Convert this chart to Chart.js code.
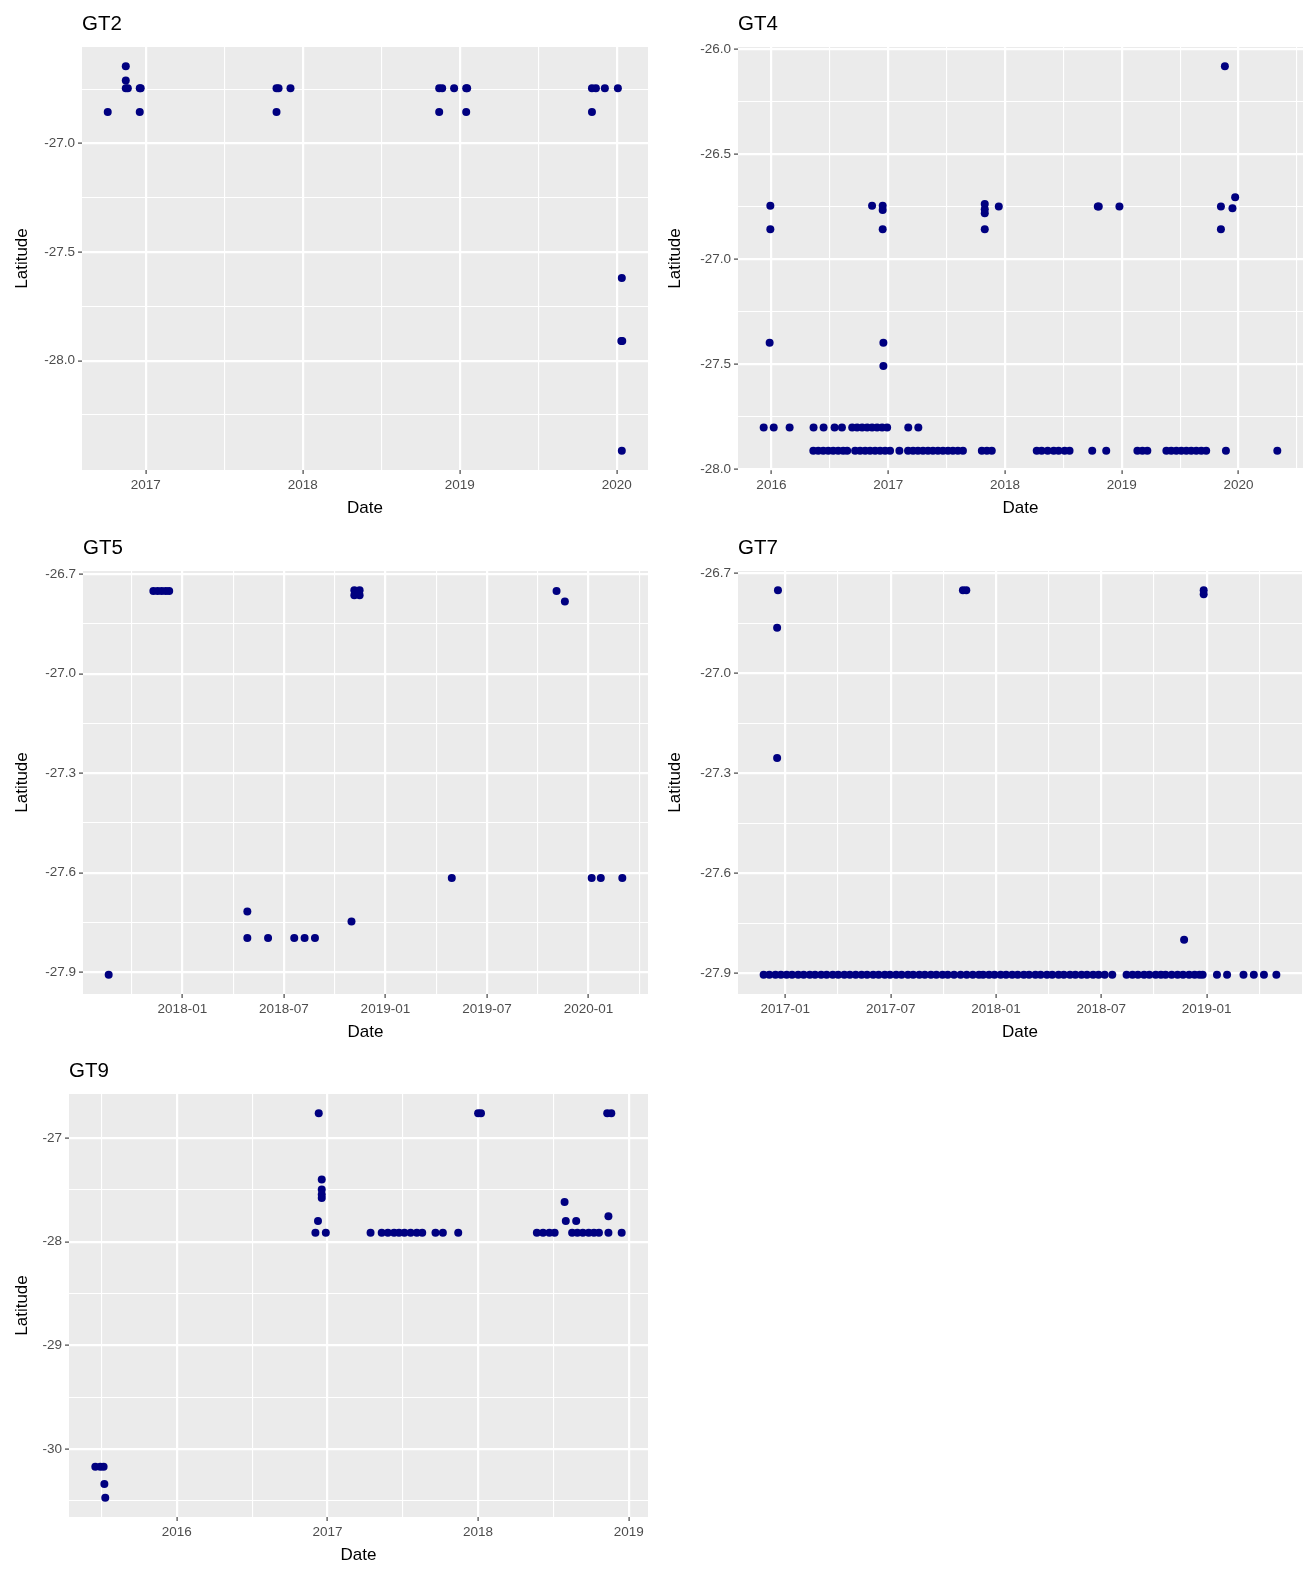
<!DOCTYPE html>
<html>
<head>
<meta charset="utf-8">
<script src="https://cdn.jsdelivr.net/npm/chart.js@4.4.1/dist/chart.umd.min.js"></script>
<style>
html,body{margin:0;padding:0;background:#ffffff;}
body{width:1307px;height:1571px;position:relative;overflow:hidden;}
canvas{position:absolute;display:block;}
</style>
</head>
<body>
<canvas id="gt2" width="653" height="524" style="left:0px;top:0px"></canvas>
<canvas id="gt4" width="654" height="524" style="left:653px;top:0px"></canvas>
<canvas id="gt5" width="653" height="524" style="left:0px;top:524px"></canvas>
<canvas id="gt7" width="654" height="524" style="left:653px;top:524px"></canvas>
<canvas id="gt9" width="653" height="524" style="left:0px;top:1047px"></canvas>
<script>
// ---------------- DATA (x = date as decimal year, y = latitude) ----------------
const gt2Year = [2016.758,2016.873,2016.873,2016.873,2016.886,2016.962,2016.968,2016.962,
  2017.833,2017.833,2017.846,2017.922,
  2018.869,2018.869,2018.888,2018.964,2019.041,2019.047,2019.041,
  2019.842,2019.842,2019.867,2019.924,2020.007,2020.032,2020.029,2020.035,2020.032];
const gt2Lat = [-26.855,-26.644,-26.710,-26.745,-26.745,-26.745,-26.745,-26.855,
  -26.855,-26.745,-26.745,-26.745,
  -26.855,-26.745,-26.745,-26.745,-26.745,-26.745,-26.855,
  -26.855,-26.745,-26.745,-26.745,-26.745,-27.619,-27.910,-27.910,-28.415];
const gt2XTicks = ["2017","2018","2019","2020"];
const gt2YTicks = ["-27.0","-27.5","-28.0"];

const gt4Year = [2015.991,2015.991,2015.985,2016.862,2016.953,2016.953,2016.953,2016.959,2016.959,
  2017.827,2017.827,2017.827,2017.827,2017.947,2018.795,2018.803,2018.980,
  2019.849,2019.849,2019.948,2019.971,2019.883,
  2015.934,2016.020,2016.156,2016.361,2016.447,2016.541,2016.604,2016.692,2016.734,2016.777,
  2016.820,2016.862,2016.905,2016.948,2016.991,2017.172,2017.258,
  2016.359,2016.401,2016.444,2016.487,2016.529,2016.572,2016.615,2016.649,2016.717,2016.760,
  2016.803,2016.845,2016.888,2016.931,2016.974,2017.016,2017.096,2017.170,2017.213,2017.255,
  2017.298,2017.341,2017.383,2017.426,2017.469,2017.512,2017.554,2017.597,2017.640,2017.802,
  2017.845,2017.887,2018.272,2018.314,2018.366,2018.417,2018.459,2018.511,2018.553,2018.747,
  2018.867,2019.134,2019.177,2019.219,2019.382,2019.424,2019.467,2019.510,2019.553,2019.595,
  2019.638,2019.681,2019.723,2019.892,2020.332];
const gt4Lat = [-26.746,-26.858,-27.398,-26.746,-26.746,-26.766,-26.858,-27.398,-27.509,
  -26.738,-26.763,-26.782,-26.858,-26.750,-26.750,-26.750,-26.750,
  -26.750,-26.858,-26.758,-26.706,-26.082,
  -27.801,-27.801,-27.801,-27.801,-27.801,-27.801,-27.801,-27.801,-27.801,-27.801,
  -27.801,-27.801,-27.801,-27.801,-27.801,-27.801,-27.801,
  -27.912,-27.912,-27.912,-27.912,-27.912,-27.912,-27.912,-27.912,-27.912,-27.912,
  -27.912,-27.912,-27.912,-27.912,-27.912,-27.912,-27.912,-27.912,-27.912,-27.912,
  -27.912,-27.912,-27.912,-27.912,-27.912,-27.912,-27.912,-27.912,-27.912,-27.912,
  -27.912,-27.912,-27.912,-27.912,-27.912,-27.912,-27.912,-27.912,-27.912,-27.912,
  -27.912,-27.912,-27.912,-27.912,-27.912,-27.912,-27.912,-27.912,-27.912,-27.912,
  -27.912,-27.912,-27.912,-27.912,-27.912];
const gt4XTicks = ["2016","2017","2018","2019","2020"];
const gt4YTicks = ["-26.0","-26.5","-27.0","-27.5","-28.0"];

const gt5Year = [2017.637,2017.857,2017.878,2017.898,2017.918,2017.935,
  2018.320,2018.320,2018.422,2018.551,2018.602,2018.653,2018.833,
  2018.847,2018.873,2018.847,2018.873,2019.327,2019.843,2019.884,
  2020.016,2020.061,2020.167];
const gt5Lat = [-27.908,-26.750,-26.750,-26.750,-26.750,-26.750,
  -27.717,-27.797,-27.797,-27.797,-27.797,-27.797,-27.747,
  -26.748,-26.748,-26.763,-26.763,-27.616,-26.750,-26.782,
  -27.616,-27.616,-27.616];
const gt5XTicks = ["2018-01","2018-07","2019-01","2019-07","2020-01"];
const gt5YTicks = ["-26.7","-27.0","-27.3","-27.6","-27.9"];

const gt7Year = [2016.965,2016.961,2016.961,2017.843,2017.859,2018.986,2018.986,2018.893,
  2016.897,2016.924,2016.953,2016.979,2017.006,2017.032,2017.061,2017.087,2017.116,2017.141,
  2017.170,2017.196,2017.225,2017.251,2017.280,2017.306,2017.334,2017.362,2017.388,2017.417,
  2017.443,2017.472,2017.497,2017.526,2017.552,2017.582,2017.607,2017.636,2017.662,2017.691,
  2017.717,2017.746,2017.771,2017.801,2017.832,
  2017.861,2017.890,2017.919,
  2017.939,2017.967,2017.993,2018.022,2018.048,2018.077,2018.103,2018.132,2018.157,2018.187,
  2018.212,2018.242,2018.267,2018.297,2018.322,2018.351,2018.377,2018.406,2018.432,2018.461,
  2018.487,2018.516,2018.552,
  2018.620,2018.648,2018.674,2018.703,2018.728,2018.758,2018.783,2018.805,
  2018.834,2018.862,2018.888,2018.917,2018.943,2018.966,2018.981,
  2019.049,2019.097,2019.175,2019.224,2019.272,2019.331];
const gt7Lat = [-26.750,-26.863,-27.254,-26.750,-26.750,-26.750,-26.762,-27.800,
  -27.905,-27.905,-27.905,-27.905,-27.905,-27.905,-27.905,-27.905,-27.905,-27.905,
  -27.905,-27.905,-27.905,-27.905,-27.905,-27.905,-27.905,-27.905,-27.905,-27.905,
  -27.905,-27.905,-27.905,-27.905,-27.905,-27.905,-27.905,-27.905,-27.905,-27.905,
  -27.905,-27.905,-27.905,-27.905,-27.905,
  -27.905,-27.905,-27.905,
  -27.905,-27.905,-27.905,-27.905,-27.905,-27.905,-27.905,-27.905,-27.905,-27.905,
  -27.905,-27.905,-27.905,-27.905,-27.905,-27.905,-27.905,-27.905,-27.905,-27.905,
  -27.905,-27.905,-27.905,
  -27.905,-27.905,-27.905,-27.905,-27.905,-27.905,-27.905,-27.905,
  -27.905,-27.905,-27.905,-27.905,-27.905,-27.905,-27.905,
  -27.905,-27.905,-27.905,-27.905,-27.905,-27.905];
const gt7XTicks = ["2017-01","2017-07","2018-01","2018-07","2019-01"];
const gt7YTicks = ["-26.7","-27.0","-27.3","-27.6","-27.9"];

const gt9Year = [2015.459,2015.492,2015.514,2015.519,2015.525,
  2016.942,2016.920,2016.989,2016.937,2016.962,2016.962,2016.962,2016.962,
  2017.286,2017.360,2017.401,2017.442,2017.475,2017.511,2017.552,2017.593,2017.629,
  2017.717,2017.766,2017.868,2018.000,2018.019,
  2018.390,2018.431,2018.473,2018.508,2018.574,2018.582,2018.651,
  2018.624,2018.659,2018.695,2018.734,2018.769,2018.802,
  2018.857,2018.884,2018.865,2018.865,2018.953];
const gt9Lat = [-30.170,-30.170,-30.170,-30.337,-30.470,
  -26.760,-27.914,-27.914,-27.800,-27.400,-27.497,-27.545,-27.577,
  -27.914,-27.914,-27.914,-27.914,-27.914,-27.914,-27.914,-27.914,-27.914,
  -27.914,-27.914,-27.914,-26.760,-26.760,
  -27.914,-27.914,-27.914,-27.914,-27.616,-27.800,-27.800,
  -27.914,-27.914,-27.914,-27.914,-27.914,-27.914,
  -26.760,-26.760,-27.754,-27.914,-27.914];
const gt9XTicks = ["2016","2017","2018","2019"];
const gt9YTicks = ["-27","-28","-29","-30"];

// ---------------- helpers ----------------
const FONT = "'Liberation Sans', Arial, Helvetica, sans-serif";
const POINT_COLOR = '#000080';

function parseDateLabel(s) {
  const parts = s.split('-');
  return Number(parts[0]) + (parts.length > 1 ? (Number(parts[1]) - 1) / 12 : 0);
}
function parseNum(s) { return Number(s); }

// ggplot-like 5% expansion of the data range
function limits(vals) {
  const mn = Math.min(...vals), mx = Math.max(...vals), r = mx - mn;
  return { min: mn - 0.05 * r, max: mx + 0.05 * r };
}

// majors from labels, minors at midpoints (and half a step beyond ends)
function buildTicks(labels, parse, lim) {
  const majors = labels.map(l => ({ value: parse(l), lbl: l })).sort((a, b) => a.value - b.value);
  const n = majors.length;
  const minors = [];
  for (let i = 0; i < n - 1; i++) minors.push((majors[i].value + majors[i + 1].value) / 2);
  minors.push(majors[0].value - (majors[1].value - majors[0].value) / 2);
  minors.push(majors[n - 1].value + (majors[n - 1].value - majors[n - 2].value) / 2);
  const eps = 1e-9;
  const all = majors.filter(t => t.value >= lim.min - eps && t.value <= lim.max + eps)
    .concat(minors.filter(v => v >= lim.min && v <= lim.max).map(v => ({ value: v, lbl: '' })));
  return all.sort((a, b) => a.value - b.value);
}

const panelPlugin = {
  id: 'panelDeco',
  beforeDraw(chart) {
    const { ctx, chartArea: a } = chart;
    ctx.save();
    ctx.fillStyle = '#EBEBEB';
    ctx.fillRect(a.left, a.top, a.right - a.left, a.bottom - a.top);
    ctx.restore();
  },
  afterDraw(chart, args, opts) {
    const { ctx, chartArea: a } = chart;
    ctx.save();
    ctx.font = '20.5px ' + FONT;
    ctx.fillStyle = '#000000';
    ctx.textAlign = 'left';
    ctx.textBaseline = 'alphabetic';
    ctx.fillText(opts.text, a.left, 30);
    ctx.restore();
  }
};

function gridOpts() {
  return {
    color: '#FFFFFF',
    lineWidth: c => (c.tick && c.tick.lbl) ? 2.2 : 1.1,
    drawTicks: true,
    tickLength: 4,
    tickWidth: 1.1,
    tickColor: c => (c.tick && c.tick.lbl) ? '#333333' : 'rgba(0,0,0,0)',
    drawOnChartArea: true
  };
}

function makePanel(cfg) {
  const xl = limits(cfg.x), yl = limits(cfg.y);
  const xt = buildTicks(cfg.xTicks, parseDateLabel, xl);
  const yt = buildTicks(cfg.yTicks, parseNum, yl);
  const canvas = document.getElementById(cfg.id);
  new Chart(canvas, {
    type: 'scatter',
    data: {
      datasets: [{
        data: cfg.x.map((v, i) => ({ x: v, y: cfg.y[i] })),
        pointRadius: 4,
        pointBackgroundColor: POINT_COLOR,
        pointBorderWidth: 0,
        pointBorderColor: POINT_COLOR,
        showLine: false
      }]
    },
    plugins: [panelPlugin],
    options: {
      responsive: false,
      animation: false,
      events: [],
      layout: { padding: { top: 47, right: cfg.padRight, bottom: 0, left: 0 } },
      plugins: {
        legend: { display: false },
        tooltip: { enabled: false },
        panelDeco: { text: cfg.title }
      },
      scales: {
        x: {
          type: 'linear',
          min: xl.min, max: xl.max,
          afterBuildTicks: s => { s.ticks = xt.map(t => ({ value: t.value, lbl: t.lbl })); },
          afterFit: s => { s.height = 54; },
          ticks: {
            autoSkip: false, maxRotation: 0, minRotation: 0, padding: 3,
            color: '#4D4D4D', font: { family: FONT, size: 13.5 },
            callback: (v, i, ticks) => ticks[i].lbl
          },
          grid: gridOpts(),
          border: { display: false },
          title: { display: true, text: 'Date', color: '#000000',
                   font: { family: FONT, size: 17 }, padding: { top: 0, bottom: 5 } }
        },
        y: {
          type: 'linear',
          min: yl.min, max: yl.max,
          afterBuildTicks: s => { s.ticks = yt.map(t => ({ value: t.value, lbl: t.lbl })); },
          afterFit: s => { s.width = cfg.plotLeft; },
          ticks: {
            autoSkip: false, padding: 3,
            color: '#4D4D4D', font: { family: FONT, size: 13.5 },
            callback: (v, i, ticks) => ticks[i].lbl
          },
          grid: gridOpts(),
          border: { display: false },
          title: { display: true, text: 'Latitude', color: '#000000',
                   font: { family: FONT, size: 17 }, padding: { top: 12, bottom: 0 } }
        }
      }
    }
  });
}

makePanel({ id: 'gt2', title: 'GT2', x: gt2Year, y: gt2Lat, xTicks: gt2XTicks, yTicks: gt2YTicks, plotLeft: 82, padRight: 5 });
makePanel({ id: 'gt4', title: 'GT4', x: gt4Year, y: gt4Lat, xTicks: gt4XTicks, yTicks: gt4YTicks, plotLeft: 85, padRight: 4 });
makePanel({ id: 'gt5', title: 'GT5', x: gt5Year, y: gt5Lat, xTicks: gt5XTicks, yTicks: gt5YTicks, plotLeft: 83, padRight: 5 });
makePanel({ id: 'gt7', title: 'GT7', x: gt7Year, y: gt7Lat, xTicks: gt7XTicks, yTicks: gt7YTicks, plotLeft: 85, padRight: 5 });
makePanel({ id: 'gt9', title: 'GT9', x: gt9Year, y: gt9Lat, xTicks: gt9XTicks, yTicks: gt9YTicks, plotLeft: 69, padRight: 5 });
</script>
</body>
</html>
